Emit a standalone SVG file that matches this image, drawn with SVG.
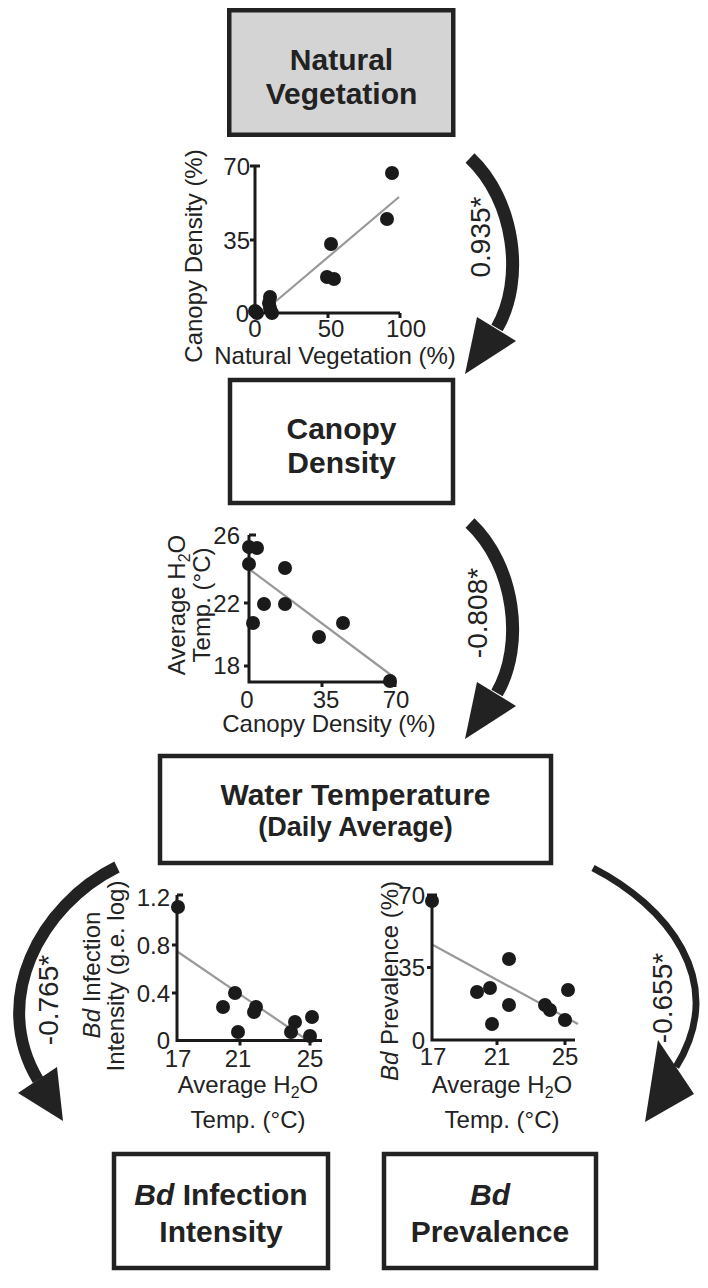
<svg xmlns="http://www.w3.org/2000/svg" width="708" height="1288" viewBox="0 0 708 1288">
<style>
.box{stroke:#222;stroke-width:4.5;fill:#fff}
.title{font-family:"Liberation Sans",Arial,sans-serif;font-weight:bold;font-size:30px;fill:#222;text-anchor:middle}
.lbl{font-family:"Liberation Sans",Arial,sans-serif;font-size:24px;fill:#222}
.end{text-anchor:end}
.mid{text-anchor:middle}
.axis{stroke:#1a1a1a;stroke-width:3;fill:none}
.reg{stroke:#999;stroke-width:2.2}
.pt{fill:#1a1a1a}
.arr{stroke:#222;fill:none}
.head{fill:#222}
.coef{font-family:"Liberation Sans",Arial,sans-serif;font-size:28px;fill:#222;text-anchor:middle}
</style>
<rect width="708" height="1288" fill="#fff"/>

<g id="natural-vegetation">
<rect class="box" x="229.25" y="10.25" width="224" height="124.5" style="fill:#d4d4d4"/>
<text class="title" x="341.5" y="70">Natural</text>
<text class="title" x="341.5" y="104">Vegetation</text>
</g>

<g id="canopy-density">
<rect class="box" x="230" y="380" width="223" height="123"/>
<text class="title" x="341.5" y="439">Canopy</text>
<text class="title" x="341.5" y="473">Density</text>
</g>

<g id="water-temperature">
<rect class="box" x="160" y="756" width="391" height="107"/>
<text class="title" x="355.5" y="805">Water Temperature</text>
<text class="title" x="355.5" y="836" style="font-size:27px">(Daily Average)</text>
</g>

<g id="bd-infection-intensity">
<rect class="box" x="114" y="1154" width="214" height="114"/>
<text class="title" x="221" y="1205"><tspan font-style="italic">Bd</tspan> Infection</text>
<text class="title" x="221" y="1242">Intensity</text>
</g>

<g id="bd-prevalence">
<rect class="box" x="384" y="1154" width="212" height="114"/>
<text class="title" x="490" y="1205" font-style="italic">Bd</text>
<text class="title" x="490" y="1242">Prevalence</text>
</g>

<g id="plot-vegetation-canopy">
<line class="reg" x1="275" y1="302" x2="399" y2="197"/>
<path class="axis" d="M255,166 V313 H400 M250,166 H260 M250,240 H255 M328,313 V318 M400,313 V318"/>
<g class="pt">
<circle cx="392" cy="173" r="7"/><circle cx="387" cy="219" r="7"/><circle cx="331" cy="244" r="7"/>
<circle cx="327" cy="277" r="7"/><circle cx="334" cy="279" r="7"/><circle cx="270" cy="297" r="7"/>
<circle cx="269" cy="303" r="7"/><circle cx="270" cy="308" r="7"/><circle cx="272" cy="313" r="7"/>
<circle cx="255" cy="311" r="7"/><circle cx="257" cy="313" r="7"/>
</g>
<text class="lbl end" x="250" y="175">70</text>
<text class="lbl end" x="250" y="248.5">35</text>
<text class="lbl end" x="249" y="321.5">0</text>
<text class="lbl mid" x="255" y="337">0</text>
<text class="lbl mid" x="331" y="337">50</text>
<text class="lbl mid" x="406" y="337">100</text>
<text class="lbl mid" x="335" y="364">Natural Vegetation (%)</text>
<text class="lbl mid" transform="translate(202,256) rotate(-90)">Canopy Density (%)</text>
</g>

<g id="plot-canopy-temperature">
<line class="reg" x1="249" y1="569" x2="395" y2="678"/>
<path class="axis" d="M249,535 V682 H395 M249,535 H256 M244,603 H249 M244,666 H249 M322,682 V687 M395,682 V687"/>
<g class="pt">
<circle cx="249" cy="547" r="7"/><circle cx="257" cy="548" r="7"/><circle cx="249" cy="564" r="7"/>
<circle cx="285" cy="568" r="7"/><circle cx="264" cy="604" r="7"/><circle cx="285" cy="604" r="7"/>
<circle cx="253" cy="623" r="7"/><circle cx="343" cy="623" r="7"/><circle cx="319" cy="637" r="7"/>
<circle cx="390" cy="681" r="7"/>
</g>
<text class="lbl end" x="240" y="543.5">26</text>
<text class="lbl end" x="240" y="611.5">22</text>
<text class="lbl end" x="240" y="673.5">18</text>
<text class="lbl mid" x="247" y="708">0</text>
<text class="lbl mid" x="326" y="708">35</text>
<text class="lbl mid" x="396" y="708">70</text>
<text class="lbl mid" x="329" y="731.5">Canopy Density (%)</text>
<text class="lbl mid" transform="translate(185,605) rotate(-90)">Average H<tspan font-size="16" dy="5">2</tspan><tspan dy="-5">O</tspan></text>
<text class="lbl mid" transform="translate(210,605) rotate(-90)">Temp. (°C)</text>
</g>

<g id="plot-temperature-intensity">
<line class="reg" x1="178" y1="952" x2="307" y2="1040"/>
<path class="axis" d="M177,895 V1040.5 H322 M177,895 H183 M172,945 H177 M172,993 H177 M240,1040.5 V1045.5 M310,1040.5 V1045.5"/>
<g class="pt">
<circle cx="178" cy="907" r="7"/><circle cx="235" cy="993" r="7"/><circle cx="223" cy="1007" r="7"/>
<circle cx="256" cy="1007" r="7"/><circle cx="254" cy="1012" r="7"/><circle cx="238" cy="1032" r="7"/>
<circle cx="295" cy="1022" r="7"/><circle cx="291" cy="1032" r="7"/><circle cx="312" cy="1017" r="7"/>
<circle cx="310" cy="1036" r="7"/>
</g>
<text class="lbl end" x="170" y="905.5">1.2</text>
<text class="lbl end" x="170" y="953.5">0.8</text>
<text class="lbl end" x="170" y="1001.5">0.4</text>
<text class="lbl end" x="170" y="1048.5">0</text>
<text class="lbl mid" x="178" y="1066.5">17</text>
<text class="lbl mid" x="238" y="1066.5">21</text>
<text class="lbl mid" x="310" y="1066.5">25</text>
<text class="lbl mid" x="248" y="1093">Average H<tspan font-size="16" dy="5">2</tspan><tspan dy="-5">O</tspan></text>
<text class="lbl mid" x="248" y="1128">Temp. (°C)</text>
<text class="lbl mid" transform="translate(100,975) rotate(-90)"><tspan font-style="italic">Bd</tspan> Infection</text>
<text class="lbl mid" transform="translate(124,976) rotate(-90)">Intensity (g.e. log)</text>
</g>

<g id="plot-temperature-prevalence">
<line class="reg" x1="433" y1="945" x2="578" y2="1024"/>
<path class="axis" d="M432,895 V1040 H575 M427,895 H437 M427,967.5 H432 M497,1040 V1045 M565,1040 V1045"/>
<g class="pt">
<circle cx="432" cy="901" r="7"/><circle cx="509" cy="959" r="7"/><circle cx="477" cy="992" r="7"/>
<circle cx="490" cy="988" r="7"/><circle cx="568" cy="990" r="7"/><circle cx="509" cy="1005" r="7"/>
<circle cx="545" cy="1005" r="7"/><circle cx="550" cy="1010" r="7"/><circle cx="492" cy="1024" r="7"/>
<circle cx="565" cy="1020" r="7"/>
</g>
<text class="lbl end" x="425" y="903.5">70</text>
<text class="lbl end" x="425" y="976">35</text>
<text class="lbl end" x="425" y="1048.5">0</text>
<text class="lbl mid" x="433" y="1065">17</text>
<text class="lbl mid" x="497" y="1065">21</text>
<text class="lbl mid" x="565" y="1065">25</text>
<text class="lbl mid" x="502" y="1093">Average H<tspan font-size="16" dy="5">2</tspan><tspan dy="-5">O</tspan></text>
<text class="lbl mid" x="502" y="1128">Temp. (°C)</text>
<text class="lbl mid" transform="translate(398,981) rotate(-90)"><tspan font-style="italic">Bd</tspan> Prevalence (%)</text>
</g>

<g id="connectors">
<path class="arr" stroke-width="13" d="M470,158 C515,200 525,280 497,328"/>
<polygon class="head" points="477,317 516,341 465,374"/>
<text class="coef" transform="translate(490,237) rotate(-90)">0.935*</text>

<path class="arr" stroke-width="13" d="M470,523 C515,565 525,645 497,693"/>
<polygon class="head" points="477,682 516,706 465,739"/>
<text class="coef" transform="translate(487,613) rotate(-90)">-0.808*</text>

<path class="arr" stroke-width="12" d="M117,867 C40,905 -10,1000 38,1080"/>
<polygon class="head" points="18,1093 57,1067 63,1121"/>
<text class="coef" transform="translate(58,1000) rotate(-90)">-0.765*</text>

<path class="arr" stroke-width="7" d="M593,868 C665,905 730,980 676,1067"/>
<polygon class="head" points="658,1040 694,1094 645,1122"/>
<text class="coef" transform="translate(672,998) rotate(-90)">-0.655*</text>
</g>
</svg>
